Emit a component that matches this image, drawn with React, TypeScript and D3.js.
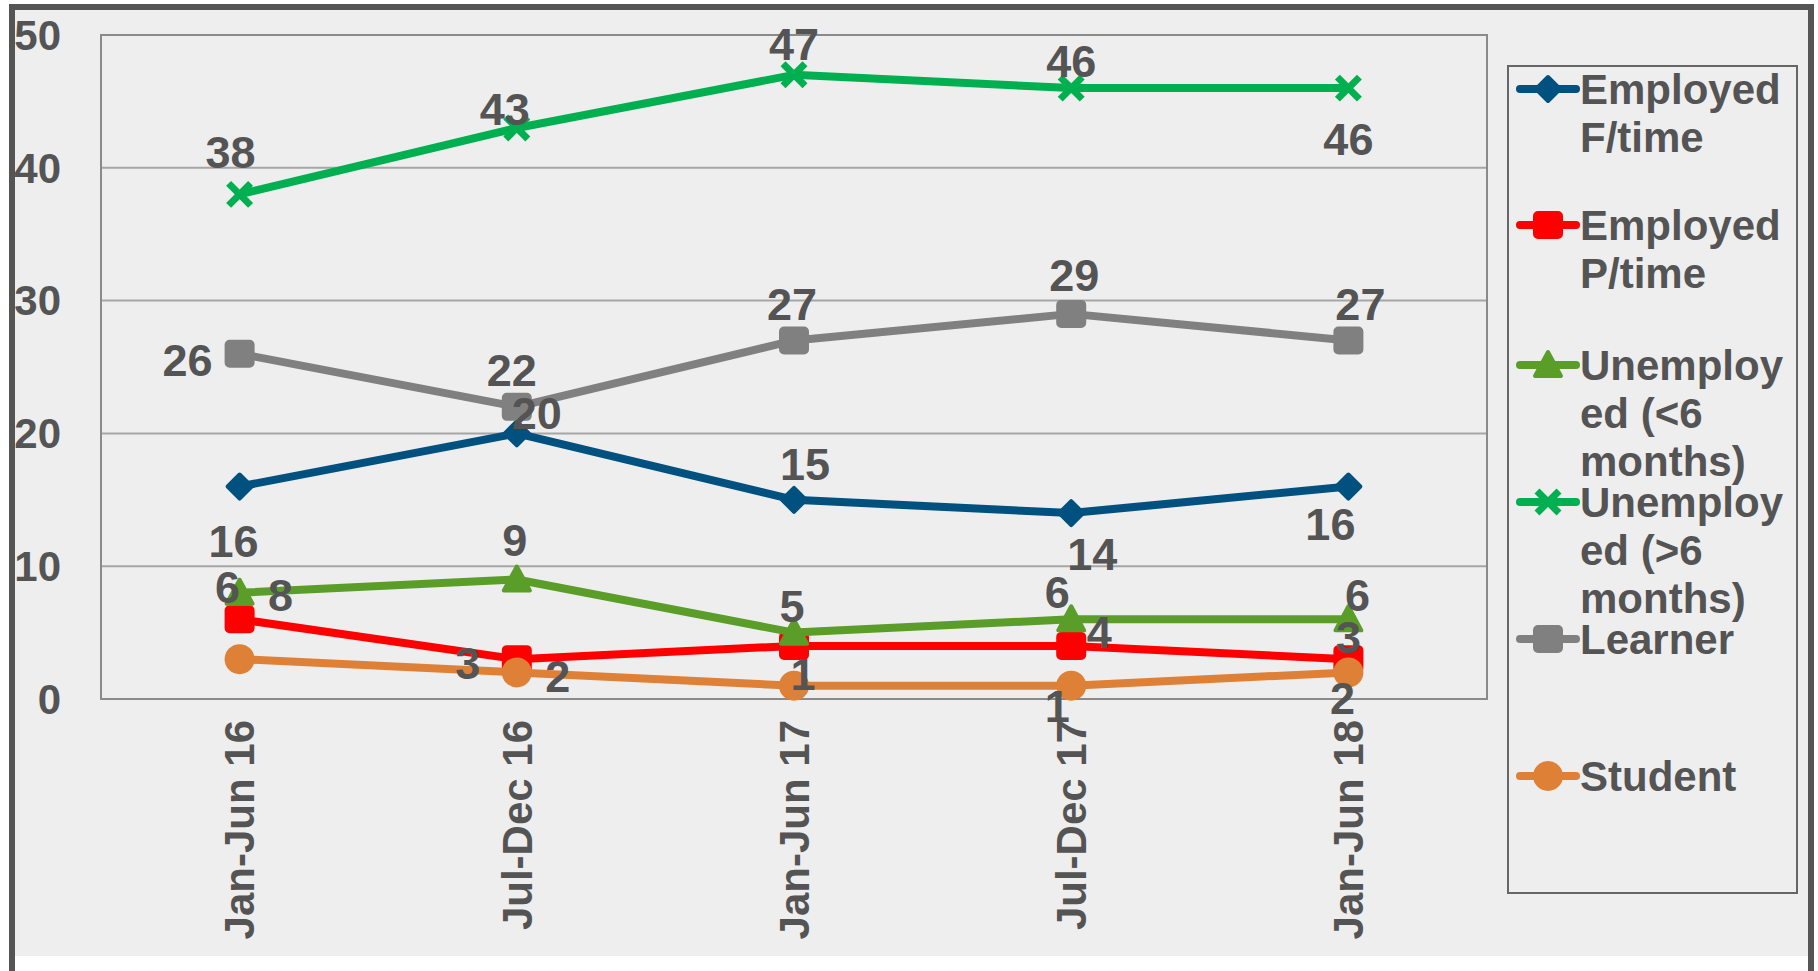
import * as d3 from "d3";

const categories = ["Jan-Jun 16", "Jul-Dec 16", "Jan-Jun 17", "Jul-Dec 17", "Jan-Jun 18"];

const employedFullTime = [16, 20, 15, 14, 16];
const employedPartTime = [6, 3, 4, 4, 3];
const unemployedUnder6 = [8, 9, 5, 6, 6];
const unemployedOver6 = [38, 43, 47, 46, 46];
const learner = [26, 22, 27, 29, 27];
const student = [3, 2, 1, 1, 2];

const yTicks = [0, 10, 20, 30, 40, 50];

const legendLines = [
  ["Employed", "F/time"],
  ["Employed", "P/time"],
  ["Unemploy", "ed (<6", "months)"],
  ["Unemploy", "ed (>6", "months)"],
  ["Learner"],
  ["Student"],
];

// where each data label sits relative to its point (null = label hidden)
const labelOffsets: ([number, number] | null)[][] = [
  [[-6, 55], [20, -20], [11, -36], [21, 41], [-18, 38]],
  [[-12, -32], [-49, 4], null, [28, -14], [0, -22]],
  [[41, 2], [-2, -39], [-2, -26], [-14, -27], [9, -24]],
  [[-9, -42], [-12, -19], [0, -31], [0, -27], [0, 51]],
  [[-52, 7], [-5, -37], [-2, -36], [3, -39], [12, -36]],
  [null, [41, 4], [9, -11], [-14, 21], [-6, 26]],
];

const series = [
  { values: employedFullTime, color: "#00517f", marker: "diamond" },
  { values: employedPartTime, color: "#ff0000", marker: "square" },
  { values: unemployedUnder6, color: "#5a9d28", marker: "triangle" },
  { values: unemployedOver6, color: "#00b050", marker: "x" },
  { values: learner, color: "#808080", marker: "square" },
  { values: student, color: "#de8035", marker: "circle" },
];

const W = 1818;
const H = 971;
const plot = { left: 101, right: 1487, top: 35, bottom: 699 };
const font = "'Liberation Sans', Arial, sans-serif";
const textColor = "#545454";

const Marker = ({ type, x, y, color }) => {
  if (type === "diamond") {
    const r = 12;
    return (
      <path
        d={`M${x},${y - r}L${x + r},${y}L${x},${y + r}L${x - r},${y}Z`}
        fill={color}
        stroke={color}
        strokeWidth={4}
        strokeLinejoin="round"
      />
    );
  }
  if (type === "square") {
    return (
      <rect
        x={x - 13}
        y={y - 12}
        width={26}
        height={24}
        rx={3}
        fill={color}
        stroke={color}
        strokeWidth={4}
        strokeLinejoin="round"
      />
    );
  }
  if (type === "triangle") {
    const r = 13;
    return (
      <path
        d={`M${x},${y - r}L${x + r},${y + r * 0.85}L${x - r},${y + r * 0.85}Z`}
        fill={color}
        stroke={color}
        strokeWidth={4}
        strokeLinejoin="round"
      />
    );
  }
  if (type === "circle") {
    return <circle cx={x} cy={y} r={15} fill={color} />;
  }
  const r = 11;
  return (
    <path
      d={`M${x - r},${y - r}L${x + r},${y + r}M${x - r},${y + r}L${x + r},${y - r}`}
      stroke={color}
      strokeWidth={7}
      fill="none"
    />
  );
};

export default function App() {
  const xScale = d3
    .scalePoint()
    .domain(categories)
    .range([plot.left, plot.right])
    .padding(0.5);

  const yScale = d3.scaleLinear().domain([0, 50]).range([plot.bottom, plot.top]);

  const line = d3
    .line<number>()
    .x((_, i) => xScale(categories[i]))
    .y((d) => yScale(d));

  const legendY = [89, 225, 365, 502, 639, 776];

  return (
    <div style={{ position: "fixed", left: 0, top: 0 }}>
      <svg width={W} height={H} style={{ display: "block", background: "#fff" }}>
        {/* outer frame */}
        <rect x={12} y={7} width={1799} height={949} fill="#eeeeee" />
        <path d="M12,971V7H1811V971" fill="none" stroke="#555" strokeWidth={6} />

        {/* grid */}
        {yTicks.map((t) => (
          <g key={t}>
            <line
              x1={plot.left}
              x2={plot.right}
              y1={yScale(t)}
              y2={yScale(t)}
              stroke="#a6a6a6"
              strokeWidth={2}
            />
            <text
              x={61}
              y={yScale(t)}
              dy="0.35em"
              textAnchor="end"
              fontFamily={font}
              fontWeight="bold"
              fontSize={42}
              fill={textColor}
            >
              {t}
            </text>
          </g>
        ))}
        <rect
          x={plot.left}
          y={plot.top}
          width={plot.right - plot.left}
          height={plot.bottom - plot.top}
          fill="none"
          stroke="#8a8a8a"
          strokeWidth={2}
        />

        {/* x labels */}
        {categories.map((c) => (
          <text
            key={c}
            transform={`translate(${xScale(c)},720) rotate(-90)`}
            dy="0.35em"
            textAnchor="end"
            fontFamily={font}
            fontWeight="bold"
            fontSize={42}
            fill={textColor}
          >
            {c}
          </text>
        ))}

        {/* lines and markers */}
        {series.map((s, si) => (
          <g key={si}>
            <path
              d={line(s.values)}
              fill="none"
              stroke={s.color}
              strokeWidth={8}
              strokeLinejoin="round"
            />
            {s.values.map((v, i) => (
              <Marker
                key={i}
                type={s.marker}
                x={xScale(categories[i])}
                y={yScale(v)}
                color={s.color}
              />
            ))}
          </g>
        ))}

        {/* data labels */}
        {series.map((s, si) =>
          s.values.map((v, i) => {
            const off = labelOffsets[si][i];
            if (!off) return null;
            return (
              <text
                key={`${si}-${i}`}
                x={xScale(categories[i]) + off[0]}
                y={yScale(v) + off[1]}
                dy="0.35em"
                textAnchor="middle"
                fontFamily={font}
                fontWeight="bold"
                fontSize={45}
                fill={textColor}
              >
                {v}
              </text>
            );
          }),
        )}

        {/* legend */}
        <rect x={1508} y={66} width={289} height={827} fill="#eeeeee" stroke="#666" strokeWidth={2} />
        {series.map((s, si) => (
          <g key={si}>
            <line
              x1={1520}
              x2={1576}
              y1={legendY[si]}
              y2={legendY[si]}
              stroke={s.color}
              strokeWidth={8}
              strokeLinecap="round"
            />
            <Marker type={s.marker} x={1548} y={legendY[si]} color={s.color} />
            {legendLines[si].map((t, li) => (
              <text
                key={li}
                x={1580}
                y={legendY[si] + li * 48}
                dy="0.35em"
                fontFamily={font}
                fontWeight="bold"
                fontSize={42}
                fill={textColor}
              >
                {t}
              </text>
            ))}
          </g>
        ))}
      </svg>
    </div>
  );
}
